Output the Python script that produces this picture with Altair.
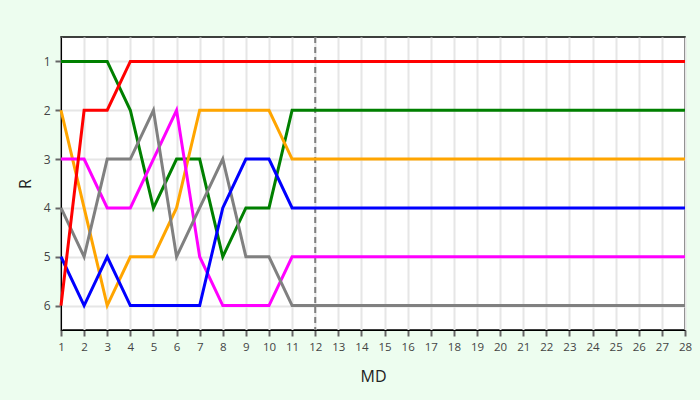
import altair as alt
import pandas as pd
import jinja2

md = list(range(1, 29))
teams = ["green", "orange", "magenta", "gray", "blue", "red"]
colors = ["#008000", "#ffa500", "#ff00ff", "#808080", "#0000ff", "#ff0000"]

red = [6, 2, 2, 1, 1, 1, 1, 1, 1, 1, 1, 1, 1, 1, 1, 1, 1, 1, 1, 1, 1, 1, 1, 1, 1, 1, 1, 1]
green = [1, 1, 1, 2, 4, 3, 3, 5, 4, 4, 2, 2, 2, 2, 2, 2, 2, 2, 2, 2, 2, 2, 2, 2, 2, 2, 2, 2]
orange = [2, 4, 6, 5, 5, 4, 2, 2, 2, 2, 3, 3, 3, 3, 3, 3, 3, 3, 3, 3, 3, 3, 3, 3, 3, 3, 3, 3]
magenta = [3, 3, 4, 4, 3, 2, 5, 6, 6, 6, 5, 5, 5, 5, 5, 5, 5, 5, 5, 5, 5, 5, 5, 5, 5, 5, 5, 5]
gray = [4, 5, 3, 3, 2, 5, 4, 3, 5, 5, 6, 6, 6, 6, 6, 6, 6, 6, 6, 6, 6, 6, 6, 6, 6, 6, 6, 6]
blue = [5, 6, 5, 6, 6, 6, 6, 4, 3, 3, 4, 4, 4, 4, 4, 4, 4, 4, 4, 4, 4, 4, 4, 4, 4, 4, 4, 4]
marker_md = [12]

series = {"green": green, "orange": orange, "magenta": magenta,
          "gray": gray, "blue": blue, "red": red}
rows = []
for i, t in enumerate(teams):
    for m, r in zip(md, series[t]):
        rows.append({"MD": m, "R": r, "team": t, "order": i})
df = pd.DataFrame(rows)

x = alt.X("MD:Q", scale=alt.Scale(domain=[1, 28], nice=False, zero=False),
          axis=alt.Axis(values=md, format="d", title="MD", tickColor="#666",
                        tickSize=6, tickWidth=2, labelPadding=5, titlePadding=16,
                        labelOverlap=False, labelFlush=False, labelBound=False,
                        titleFontSize=16, titleFontWeight="normal",
                        labelFontSize=11.5, labelColor="#444", titleColor="#222",
                        gridColor="#e6e6e6", gridWidth=2, domainColor="black"))
y = alt.Y("R:Q", scale=alt.Scale(domain=[6.5, 0.5], nice=False, zero=False),
          axis=alt.Axis(values=[1, 2, 3, 4, 5, 6], format="d", title="R",
                        tickColor="#666", tickSize=6, tickWidth=2, labelPadding=5,
                        titlePadding=10, titleFontSize=16, titleFontWeight="normal",
                        labelFontSize=12, labelColor="#444", titleColor="#222",
                        gridColor="#e6e6e6", gridWidth=2, domainColor="black"))

lines = alt.Chart(df).mark_line(strokeWidth=3).encode(
    x=x, y=y,
    color=alt.Color("team:N", scale=alt.Scale(domain=teams, range=colors), legend=None),
    detail="team:N",
    order=alt.Order("MD:Q"),
)

rule = alt.Chart(pd.DataFrame({"MD": marker_md})).mark_rule(
    color="#808080", strokeWidth=2, strokeDash=[6, 4]
).encode(x=x)

chart = alt.layer(rule, lines).properties(
    width=624, height=293,
    autosize=alt.AutoSizeParams(type="none"),
    padding={"left": 53, "top": 29, "right": 7, "bottom": 62},
    background="#edfdef",
).configure_view(stroke="black", strokeWidth=1.5, fill="white").configure_axis(
    labelFont="Open Sans", titleFont="Open Sans"
)

TEMPLATE = jinja2.Template("""<!DOCTYPE html>
<html>
<head>
<style>html, body { background: #edfdef; }</style>
<script type="text/javascript" src="{{ base_url }}/vega@{{ vega_version }}"></script>
<script type="text/javascript" src="{{ base_url }}/vega-lite@{{ vegalite_version }}"></script>
<script type="text/javascript" src="{{ base_url }}/vega-embed@{{ vegaembed_version }}"></script>
</head>
<body>
<div id="{{ output_div }}"></div>
<script type="text/javascript">
  vegaEmbed("#{{ output_div }}", {{ spec }}, {{ embed_options }}).catch(console.error);
</script>
</body>
</html>
""")

chart.save("out.html", embed_options={"renderer": "svg", "actions": False}, template=TEMPLATE)
